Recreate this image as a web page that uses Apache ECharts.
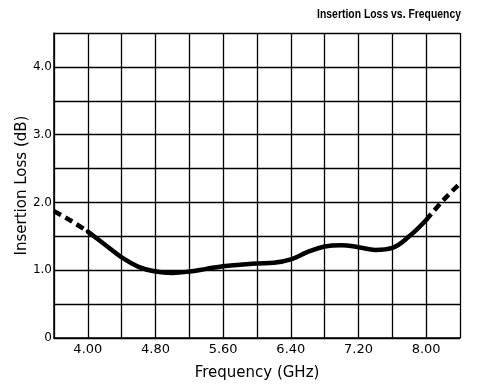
<!DOCTYPE html>
<html>
<head>
<meta charset="utf-8">
<script src="https://cdn.jsdelivr.net/npm/echarts@6/dist/echarts.min.js"></script>
<style>
  html, body { margin: 0; padding: 0; background: #fff; }
  #chart { width: 478px; height: 389px; }
</style>
</head>
<body>
<div id="chart"></div>
<script>
// Insertion loss measurements (GHz, dB)
// Dashed extrapolation below the band
var freqLow = [3.6, 3.8, 4.0];
var lossLow = [1.87, 1.73, 1.57];
// Solid in-band curve
var freqBand = [4.0, 4.2, 4.4, 4.6, 4.8, 5.0, 5.2, 5.4, 5.6, 5.8, 6.0, 6.2, 6.4, 6.6, 6.8, 7.0, 7.2, 7.4, 7.6, 7.8, 8.0];
var lossBand = [1.57, 1.38, 1.19, 1.05, 0.98, 0.96, 0.98, 1.02, 1.06, 1.08, 1.10, 1.11, 1.16, 1.27, 1.35, 1.37, 1.34, 1.30, 1.33, 1.50, 1.74];
// Dashed extrapolation above the band
var freqHigh = [8.0, 8.2, 8.4];
var lossHigh = [1.74, 2.03, 2.28];

var xTickLabels = ['4.00', '4.80', '5.60', '6.40', '7.20', '8.00'];
var yTickLabels = ['0', '1.0', '2.0', '3.0', '4.0'];
var chartTitle = 'Insertion Loss vs. Frequency';

function pairs(xs, ys) {
  return xs.map(function (x, i) { return [x, ys[i]]; });
}
function pickLabel(list, v) {
  for (var i = 0; i < list.length; i++) {
    if (Math.abs(parseFloat(list[i]) - v) < 1e-6) return list[i];
  }
  return '';
}

var chart = echarts.init(document.getElementById('chart'), null, { renderer: 'canvas' });
var lineStyleBase = { color: '#000', width: 4.5 };

chart.setOption({
  backgroundColor: '#fff',
  animation: false,
  // Condensed bold heading, right-aligned over the plot
  graphic: [{
    type: 'text',
    x: 461,
    y: 14,
    scaleX: 0.8,
    style: {
      text: chartTitle,
      align: 'right',
      verticalAlign: 'middle',
      fontFamily: 'Liberation Sans, Arial, sans-serif',
      fontWeight: 'bold',
      fontSize: 13,
      fill: '#000'
    }
  }],
  grid: { left: 54, right: 18, top: 33, bottom: 51, containLabel: false },
  xAxis: {
    type: 'value',
    min: 3.6,
    max: 8.4,
    interval: 0.4,
    name: 'Frequency (GHz)',
    nameLocation: 'middle',
    nameGap: 28,
    nameTextStyle: { fontFamily: 'DejaVu Sans, sans-serif', fontSize: 15, color: '#000' },
    axisLine: { show: true, lineStyle: { color: '#000', width: 1.5 } },
    axisTick: { show: false },
    axisLabel: {
      margin: 5,
      fontFamily: 'DejaVu Sans, sans-serif',
      fontSize: 13,
      color: '#000',
      formatter: function (v) { return pickLabel(xTickLabels, v); }
    },
    splitLine: { show: true, lineStyle: { color: '#000', width: 1.3 } }
  },
  yAxis: {
    type: 'value',
    min: 0,
    max: 4.5,
    interval: 0.5,
    name: 'Insertion Loss (dB)',
    nameLocation: 'middle',
    nameGap: 24,
    nameMoveOverlap: false,
    nameTextStyle: { fontFamily: 'DejaVu Sans, sans-serif', fontSize: 15, color: '#000' },
    axisLine: { show: true, lineStyle: { color: '#000', width: 1.5 } },
    axisTick: { show: false },
    axisLabel: {
      margin: 2,
      fontFamily: 'DejaVu Sans, sans-serif',
      fontSize: 12,
      color: '#000',
      padding: [0, 0, 6, 0],
      formatter: function (v) { return pickLabel(yTickLabels, v); }
    },
    splitLine: { show: true, lineStyle: { color: '#000', width: 1.3 } }
  },
  series: [
    {
      type: 'line',
      data: pairs(freqLow, lossLow),
      smooth: 0.4,
      showSymbol: false,
      lineStyle: Object.assign({}, lineStyleBase, { type: [8, 5] }),
      z: 5
    },
    {
      type: 'line',
      data: pairs(freqBand, lossBand),
      smooth: 0.4,
      showSymbol: false,
      lineStyle: Object.assign({}, lineStyleBase, { cap: 'round' }),
      z: 5
    },
    {
      type: 'line',
      data: pairs(freqHigh, lossHigh),
      smooth: 0.4,
      showSymbol: false,
      lineStyle: Object.assign({}, lineStyleBase, { type: [8, 5] }),
      z: 5
    }
  ]
});
</script>
</body>
</html>
